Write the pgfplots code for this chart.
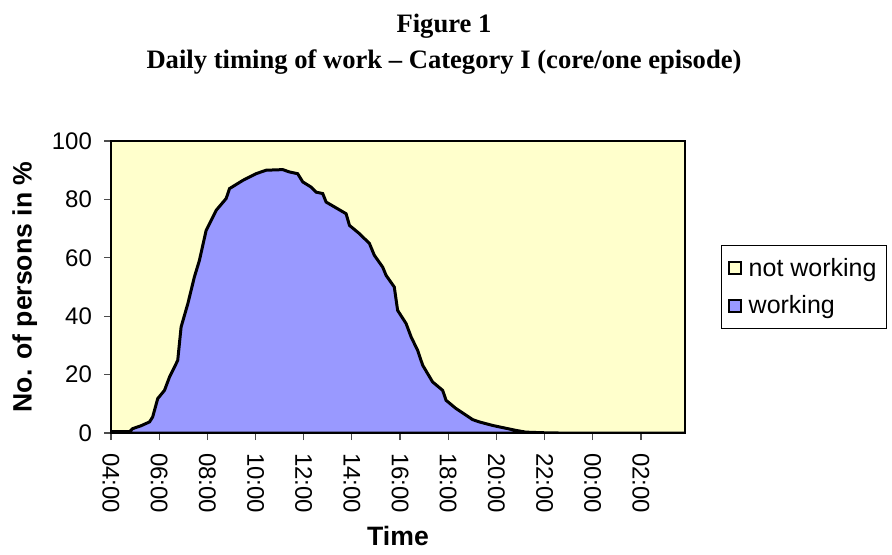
\documentclass[border=0pt]{standalone}
\usepackage{pgfplots}
\pgfplotsset{compat=1.18}
\usepgfplotslibrary{fillbetween}
\usepackage{pgfplotstable}
\usepackage{fontspec}
\setmainfont{Liberation Serif}
\newfontfamily\arial{Liberation Sans}
\definecolor{notw}{HTML}{FFFFCC}
\definecolor{work}{HTML}{9999FF}
\pgfplotstableread{
h w
0.00 0.5
0.77 0.5
0.90 1.5
1.25 2.5
1.60 3.8
1.73 5.5
1.94 11.8
2.22 14.6
2.43 19.2
2.63 22.5
2.77 24.9
2.91 36.3
3.19 44.3
3.46 53.4
3.67 59.1
3.95 69.4
4.37 76.3
4.78 80.3
4.92 83.7
5.47 86.5
6.02 88.8
6.44 90.0
7.13 90.2
7.41 89.4
7.75 88.8
7.96 86.0
8.31 84.2
8.51 82.5
8.79 82.0
8.93 79.1
9.76 75.1
9.90 71.1
10.31 68.3
10.73 64.9
10.93 60.9
11.28 56.8
11.42 54.0
11.76 50.0
11.90 42.0
12.25 37.5
12.46 32.9
12.73 28.3
12.94 23.2
13.35 17.5
13.77 14.6
13.91 11.2
14.32 8.4
14.74 6.1
15.01 4.6
15.29 3.8
15.84 2.6
16.12 2.1
16.81 0.9
17.22 0.3
17.90 0.1
18.60 0.0
23.83 0.0
}\data
\begin{document}
\begin{tikzpicture}
\node[font=\bfseries\fontsize{13.3}{18}\selectfont, align=center] at (222pt,255pt) {Figure 1\\Daily timing of work -- Category I (core/one episode)};
\begin{axis}[
  at={(55.5pt,60.5pt)}, anchor=south west,
  scale only axis, width=287pt, height=146pt,
  xmin=0, xmax=23.83, ymin=0, ymax=100,
  xtick={0,2,...,22},
  xticklabels={04:00,06:00,08:00,10:00,12:00,14:00,16:00,18:00,20:00,22:00,00:00,02:00},
  ytick={0,20,...,100},
  tick align=outside, tick pos=left,
  major tick length=3.5pt,
  tick style={black!70, line width=0.6pt},
  axis line style={line width=1pt},
  axis on top,
  /pgf/number format/assume math mode=true,
  tick label style={font=\arial\fontsize{12}{14}\selectfont},
  xticklabel style={rotate=-90, anchor=west, xshift=3pt},
  yticklabel style={xshift=-2.5pt},
  xlabel={Time},
  ylabel={No. of persons in \%},
  label style={font=\arial\bfseries\fontsize{13.3}{15}\selectfont},
  ylabel style={yshift=0.5pt},
  xlabel style={yshift=0.5pt},
  legend style={at={(1.352,0.5)}, anchor=east, draw=black, line width=0.5pt,
    font=\arial\fontsize{12.5}{15}\selectfont, row sep=4pt, inner xsep=3pt, inner ysep=4pt},
  legend style={/tikz/every odd column/.append style={column sep=1.5pt}},
  legend cell align=left,
  legend image code/.code={\draw[draw=black, #1, line width=1pt] (0pt,-3pt) rectangle (6pt,3pt);},
]
\addplot[draw=none, name path=W, forget plot] table[x=h,y=w]{\data};
\path[name path=T] (axis cs:0,100) -- (axis cs:23.83,100);
\addplot[fill=notw, draw=none, forget plot] fill between[of=W and T];
\addplot[fill=work, draw=black, line width=1.5pt, forget plot] table[x=h,y=w]{\data} \closedcycle;
\addlegendimage{fill=notw}
\addlegendentry{not working}
\addlegendimage{fill=work}
\addlegendentry{working}
\end{axis}
\path (0,0) rectangle (446pt,277pt);
\end{tikzpicture}
\end{document}
